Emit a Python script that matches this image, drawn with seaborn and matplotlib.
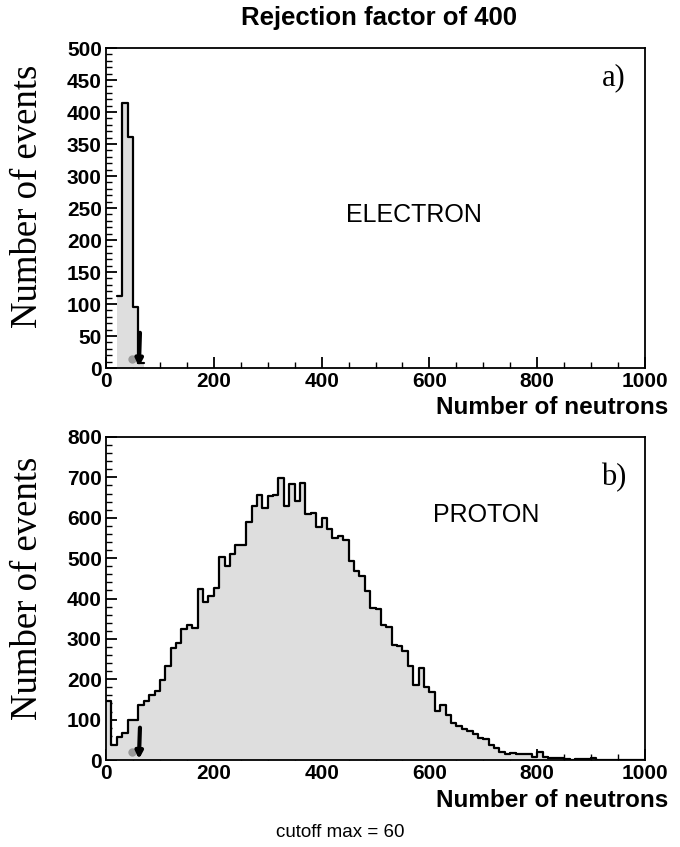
import numpy as np
import pandas as pd
import matplotlib
matplotlib.use("Agg")
import matplotlib.pyplot as plt
import seaborn as sns
from matplotlib.ticker import MultipleLocator

sns.set_theme(style="white")
plt.rcParams['font.family'] = ['Liberation Sans', 'DejaVu Sans']

# ---------------- data ----------------
title = "Rejection factor of 400"
xlabel = "Number of neutrons"
ylabel = "Number of events"
footer = "cutoff max = 60"

# electron histogram (bin width 10)
electron_bin_left = [20, 30, 40, 50, 60]
electron_counts = [112, 414, 361, 96, 8]

# proton histogram (bin width 10, 0..1000)
proton_counts = [
    145, 37, 58, 66, 99, 99, 137, 147, 161, 170,
    199, 232, 277, 290, 325, 335, 327, 424, 391, 406,
    427, 503, 480, 511, 533, 533, 590, 628, 657, 625,
    653, 656, 698, 629, 683, 642, 686, 609, 613, 576,
    600, 571, 551, 555, 545, 493, 468, 455, 418, 377,
    373, 335, 330, 286, 282, 269, 232, 186, 228, 181,
    168, 122, 137, 112, 92, 85, 76, 72, 65, 54,
    51, 37, 29, 21, 15, 18, 15, 15, 15, 8,
    20, 8, 6, 4, 5, 2, 1, 3, 2, 3,
    4, 1, 0, 0, 0, 0, 0, 0, 0, 0,
]
bin_width = 10
cutoff = 60

proton_left = np.arange(0, 1000, bin_width)
df_e = pd.DataFrame({"n": np.array(electron_bin_left) + bin_width / 2, "w": electron_counts})
df_p = pd.DataFrame({"n": proton_left + bin_width / 2, "w": proton_counts})

fig = plt.figure(figsize=(6.8, 8.47), dpi=100)
W, H = 680, 847
def ax_rect(l, t, r, b):
    return [l / W, 1 - b / H, (r - l) / W, (b - t) / H]

ax1 = fig.add_axes(ax_rect(106, 48, 645, 368))
ax2 = fig.add_axes(ax_rect(106, 437, 645, 760))

fill_col = "#dedede"

def draw_hist(ax, df, edges):
    sns.histplot(data=df, x="n", weights="w", bins=edges, element="step", fill=True,
                 color=fill_col, alpha=1.0, linewidth=0, ax=ax)
    sns.histplot(data=df, x="n", weights="w", bins=edges, element="step", fill=False,
                 color="black", linewidth=1.6, ax=ax)

e_edges = list(electron_bin_left) + [electron_bin_left[-1] + bin_width]
draw_hist(ax1, df_e, e_edges)
p_edges = list(proton_left) + [1000]
draw_hist(ax2, df_p, p_edges)

def style(ax, ymax, ymajor, yminor):
    ax.set_xlim(0, 1000)
    ax.set_ylim(0, ymax)
    ax.xaxis.set_major_locator(MultipleLocator(200))
    ax.xaxis.set_minor_locator(MultipleLocator(50))
    ax.yaxis.set_major_locator(MultipleLocator(ymajor))
    ax.yaxis.set_minor_locator(MultipleLocator(yminor))
    ax.tick_params(which="major", direction="in", length=8, width=1.3, color="black",
                   labelsize=15, pad=3, top=False, right=False, bottom=True, left=True)
    ax.tick_params(which="minor", direction="in", length=4, width=1.0, color="black",
                   top=False, right=False, bottom=True, left=True)
    for lab in ax.get_xticklabels() + ax.get_yticklabels():
        lab.set_fontweight("bold")
        lab.set_color("black")
    for s in ax.spines.values():
        s.set_color("black")
        s.set_linewidth(1.3)
    ax.set_xlabel("")
    ax.set_ylabel("")

style(ax1, 500, 50, 10)
style(ax2, 800, 100, 20)

# cutoff arrows
for ax, ytop in [(ax1, 55), (ax2, 80)]:
    ax.annotate("", xy=(61, 2), xytext=(63, ytop),
                arrowprops=dict(arrowstyle="-|>", color="black", lw=3, mutation_scale=10,
                                shrinkA=0, shrinkB=0))
    ax.plot([48], [ytop * 0.25], marker="o", ms=6, color="#9a9a9a", mec="none")

serif = ["Liberation Serif", "DejaVu Serif"]
fig.text(414 / W, 1 - 215 / H, "ELECTRON", ha="center", va="center", fontsize=18, color="black")
fig.text(486 / W, 1 - 515 / H, "PROTON", ha="center", va="center", fontsize=18, color="black")
fig.text(614 / W, 1 - 78 / H, "a)", ha="center", va="center", fontsize=22, family=serif, color="black")
fig.text(614 / W, 1 - 478 / H, "b)", ha="center", va="center", fontsize=22, family=serif, color="black")

fig.text(379 / W, 1 - 18 / H, title, ha="center", va="center", fontsize=18.5,
         fontweight="bold", color="black")
fig.text(668 / W, 1 - 414 / H, xlabel, ha="right", va="baseline", fontsize=17.5,
         fontweight="bold", color="black")
fig.text(668 / W, 1 - 807 / H, xlabel, ha="right", va="baseline", fontsize=17.5,
         fontweight="bold", color="black")
fig.text(340 / W, 1 - 832 / H, footer, ha="center", va="center", fontsize=13.5, color="black")

fig.text(28 / W, 1 - 196 / H, ylabel, ha="center", va="center", rotation=90, fontsize=26.5,
         family=serif, color="black")
fig.text(28 / W, 1 - 588 / H, ylabel, ha="center", va="center", rotation=90, fontsize=26.5,
         family=serif, color="black")

fig.savefig("out.png", dpi=100)
